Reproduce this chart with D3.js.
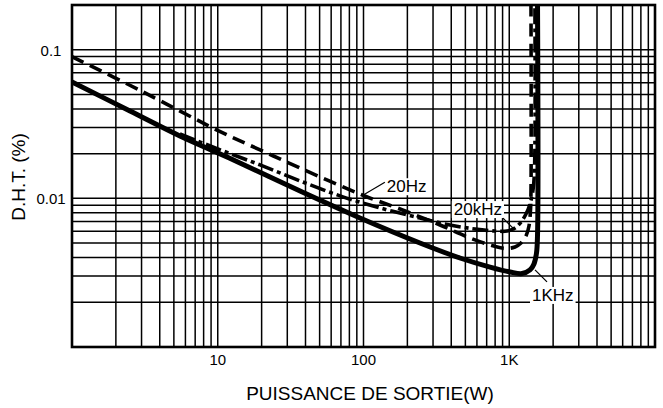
<!DOCTYPE html>
<html><head><meta charset="utf-8">
<script src="https://cdn.jsdelivr.net/npm/d3@7"></script>
<style>
body{margin:0;background:#fff}
svg{display:block}
text{font-family:"Liberation Sans",Arial,Helvetica,sans-serif;fill:#000}
</style>
</head><body>
<svg id="chart" width="663" height="408"></svg>
<script>
// ---- data ----
const xTickValues = [10, 100, 1000];
const xTickLabels = ["10", "100", "1K"];
const yTickValues = [0.1, 0.01];
const yTickLabels = ["0.1", "0.01"];

// 20Hz (dashed)
const hz20X = [1, 2.9, 10.4, 19.5, 36.7, 99, 178, 335, 538, 738, 935, 1095, 1204, 1303, 1366, 1399, 1410, 1410];
const hz20Y = [0.0898, 0.0536, 0.0281, 0.0212, 0.0160, 0.0105, 0.00848, 0.00662, 0.00541, 0.00486, 0.0046, 0.00471, 0.00501, 0.00558, 0.00652, 0.00835, 0.0114, 0.2];

// 20kHz (dash-dot)
const khz20X = [5.5, 10.4, 19.5, 36.7, 69, 130, 244, 392, 582, 799, 965, 1095, 1204, 1303, 1388, 1455, 1490, 1500];
const khz20Y = [0.0271, 0.0212, 0.0168, 0.0131, 0.0104, 0.00862, 0.00738, 0.00662, 0.00622, 0.00603, 0.00603, 0.00632, 0.00693, 0.00785, 0.00917, 0.0114, 0.0155, 0.2];

// 1KHz (solid)
const khz1X = [1, 2.5, 5.5, 10.4, 14.2, 36.7, 94.6, 244, 459, 738, 1012, 1223, 1388, 1478, 1538, 1563, 1563];
const khz1Y = [0.0607, 0.0387, 0.0263, 0.0199, 0.0173, 0.0112, 0.00738, 0.00501, 0.00397, 0.00345, 0.0032, 0.00312, 0.0033, 0.00362, 0.00429, 0.00567, 0.2];

const seriesNames = ["20Hz", "20kHz", "1KHz"];
// annotation anchors on the curves (data space)
const labelAnchorX = [99, 1095, 1502];
const labelAnchorY = [0.0105, 0.00612, 0.0033];

const xTitle = "PUISSANCE DE SORTIE(W)";
const yTitle = "D.H.T. (%)";

// ---- layout ----
const W = 663, H = 408;
const L = 72, R = 655, T = 5, B = 347;

const svg = d3.select("#chart");
const x = d3.scaleLog().domain([1, 10000]).range([L, R]);
const y = d3.scaleLog().domain([0.001, 0.2]).range([B, T]);

// grid
const g = svg.append("g");
g.selectAll("line.v").data(x.ticks()).join("line")
  .attr("x1", d => x(d)).attr("x2", d => x(d))
  .attr("y1", T).attr("y2", B)
  .attr("stroke", "#000").attr("stroke-width", 1.5);
g.selectAll("line.h").data(y.ticks()).join("line")
  .attr("y1", d => y(d)).attr("y2", d => y(d))
  .attr("x1", L).attr("x2", R)
  .attr("stroke", "#000").attr("stroke-width", 1.5);

// clip
svg.append("clipPath").attr("id", "clip").append("rect")
  .attr("x", L).attr("y", T).attr("width", R - L).attr("height", B - T);

const line = d3.line().x(d => x(d[0])).y(d => y(d[1])).curve(d3.curveCatmullRom.alpha(0.5));
const zip = (a, b) => a.map((v, i) => [v, b[i]]);

const series = [
  {name: seriesNames[0], pts: zip(hz20X, hz20Y), w: 3.6, dash: "13,7"},
  {name: seriesNames[1], pts: zip(khz20X, khz20Y), w: 3.6, dash: "16,4,4,4"},
  {name: seriesNames[2], pts: zip(khz1X, khz1Y), w: 5, dash: null}
];

const cg = svg.append("g").attr("clip-path", "url(#clip)");
cg.selectAll("path").data(series).join("path")
  .attr("d", d => line(d.pts))
  .attr("fill", "none").attr("stroke", "#000")
  .attr("stroke-width", d => d.w)
  .attr("stroke-dasharray", d => d.dash)
  .attr("stroke-linecap", "butt");

// frame
svg.append("rect").attr("x", L).attr("y", T).attr("width", R - L).attr("height", B - T)
  .attr("fill", "none").attr("stroke", "#000").attr("stroke-width", 2.6);

// annotations
const annot = [
  {lx: 22, ly: -13, tx: 24, ty: -3, anchor: "start"},
  {lx: -12, ly: -12, tx: -13, ty: -15, anchor: "end"},
  {lx: 12, ly: 12, tx: -3, ty: 31, anchor: "start"}
];
const ag = svg.append("g");
annot.forEach((a, i) => {
  const px = x(labelAnchorX[i]), py = y(labelAnchorY[i]);
  const t = ag.append("text").attr("x", px + a.tx).attr("y", py + a.ty)
    .attr("text-anchor", a.anchor).attr("font-size", 17).text(seriesNames[i]);
  const bb = t.node().getBBox();
  ag.insert("rect", "text").attr("x", bb.x - 2).attr("y", bb.y + 1)
    .attr("width", bb.width + 4).attr("height", bb.height - 2).attr("fill", "#fff");
  ag.append("line").attr("x1", px).attr("y1", py).attr("x2", px + a.lx).attr("y2", py + a.ly)
    .attr("stroke", "#000").attr("stroke-width", 1.2);
});

// tick labels
svg.selectAll("text.xt").data(xTickValues).join("text")
  .attr("class", "xt").attr("x", d => x(d)).attr("y", 365)
  .attr("text-anchor", "middle").attr("font-size", 15)
  .text((d, i) => xTickLabels[i]);
svg.selectAll("text.yt").data(yTickValues).join("text")
  .attr("class", "yt").attr("x", 51).attr("y", d => y(d) + 6)
  .attr("text-anchor", "middle").attr("font-size", 15)
  .text((d, i) => yTickLabels[i]);

// titles
svg.append("text").attr("x", 370).attr("y", 400).attr("text-anchor", "middle")
  .attr("font-size", 19).text(xTitle);
svg.append("text").attr("transform", "translate(25,177) rotate(-90)")
  .attr("text-anchor", "middle").attr("font-size", 19).text(yTitle);
</script>
</body></html>
